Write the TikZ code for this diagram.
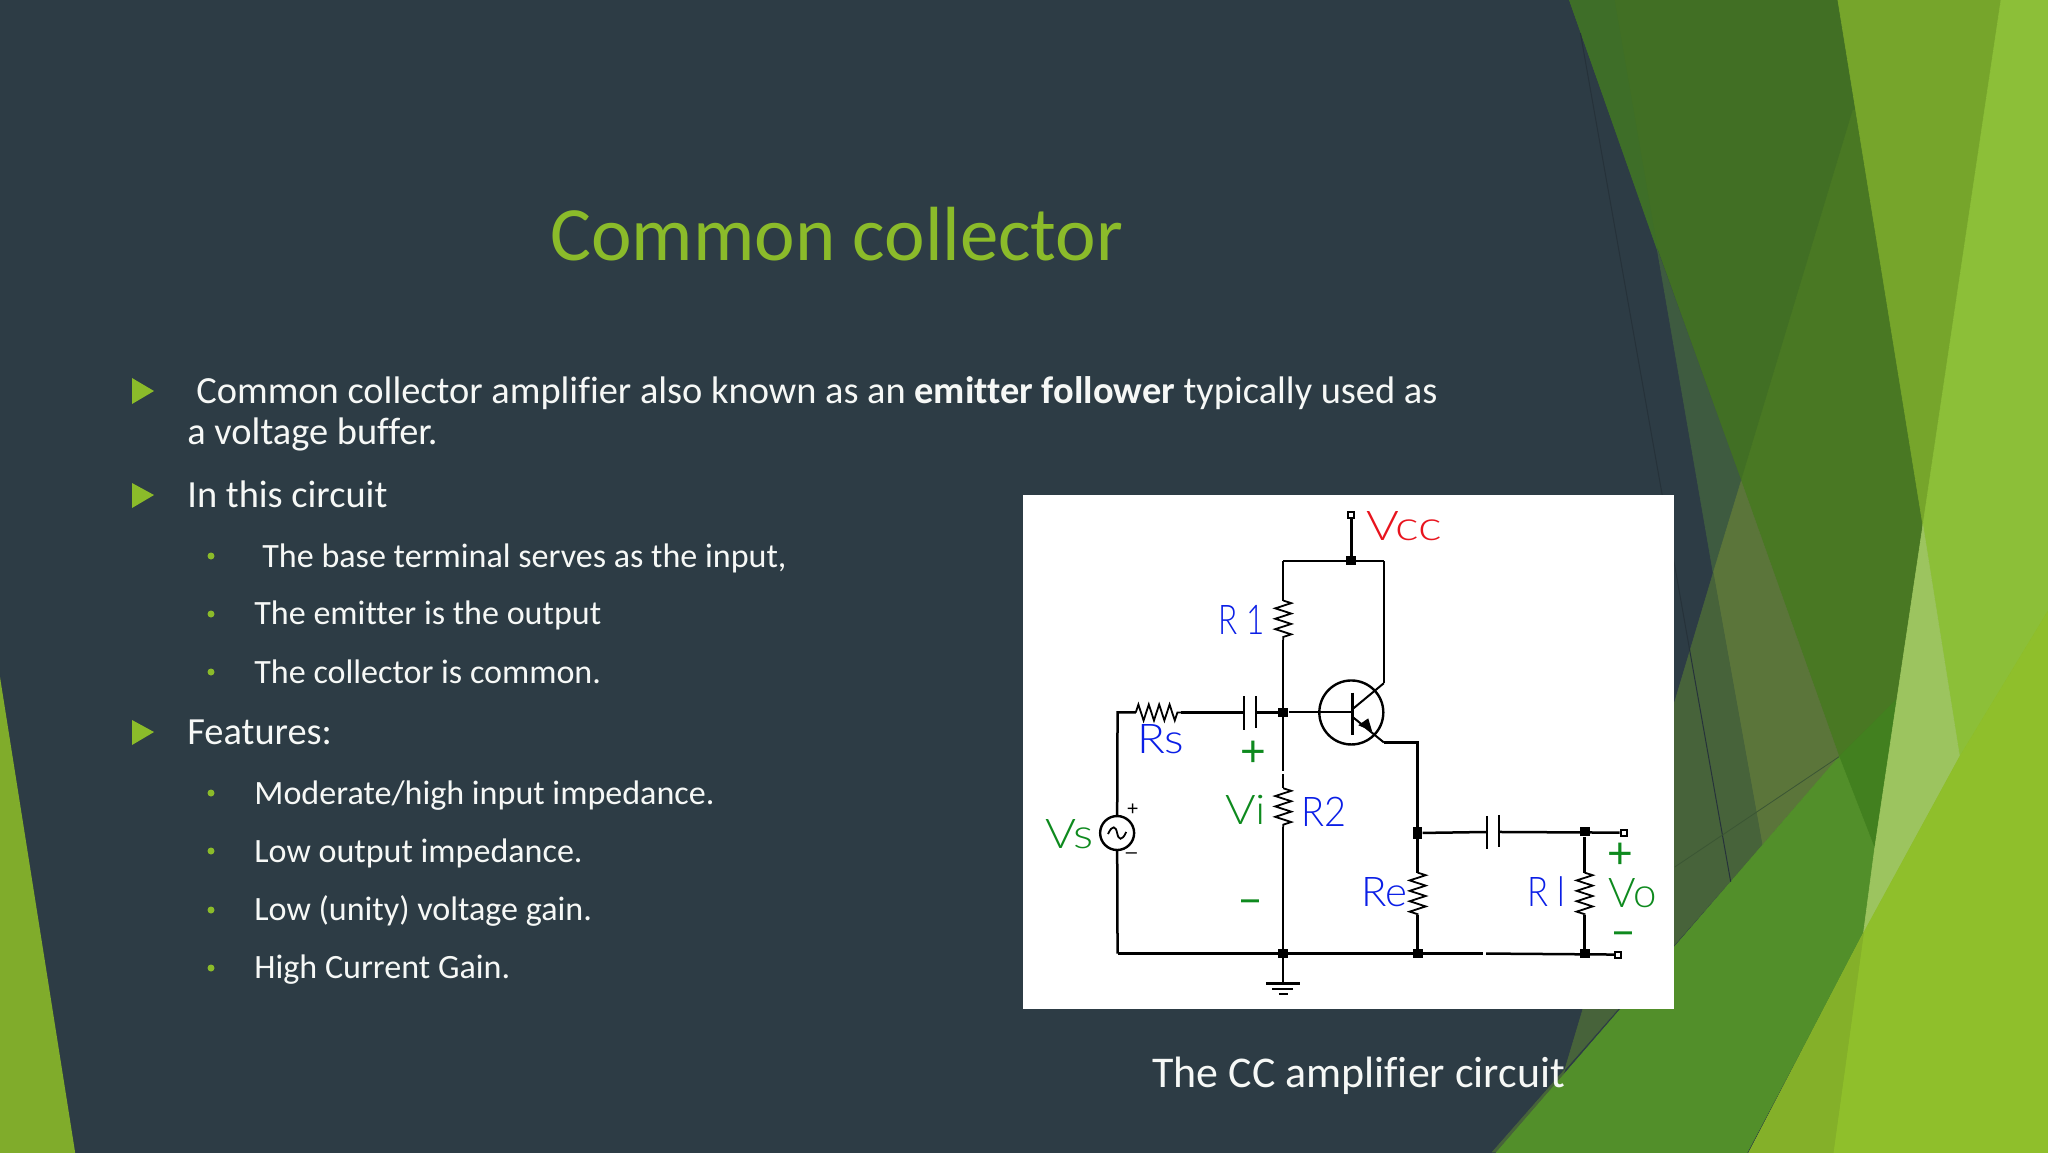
\documentclass[tikz,border=0pt]{standalone}
\usepackage{fontspec}
\usepackage{graphicx}
\setmainfont{Carlito}[Ligatures={NoCommon}]
\newfontfamily\labfont{Lato Light}
\newfontfamily\signfont{Liberation Sans}
\usetikzlibrary{decorations.pathmorphing}
\definecolor{slidebg}{HTML}{2D3C45}
\definecolor{accent}{HTML}{8BBB2A}
\definecolor{bodytxt}{HTML}{F6F8F6}
\definecolor{labblue}{HTML}{0A1EE6}
\definecolor{labgreen}{HTML}{0E8A1E}
\definecolor{labred}{HTML}{E8141E}
\newcommand{\fitw}[2]{\resizebox{#1}{\height}{#2}}
\tikzset{
  hex/.code={\definecolor{tmpc}{HTML}{#1}\tikzset{color=tmpc}},
  facet/.style={hex=#1,line width=.3pt},
  bodytext/.style={anchor=base west,inner sep=0pt,text=bodytxt,font=\fontsize{19.2}{21}\selectfont},
  subtext/.style={anchor=base west,inner sep=0pt,text=bodytxt,font=\fontsize{17.03}{20}\selectfont},
  arrowbullet/.style={fill=accent,draw=none},
  dotbullet/.style={circle,fill=accent,draw=none,minimum size=3.5pt,inner sep=0pt},
  wire/.style={draw=black,line width=1.25pt},
  thinwire/.style={draw=black,line width=1pt},
  resistor/.style={draw=black,line width=.9pt,decorate,decoration={zigzag,amplitude=#1,segment length=5.2pt}},
  resistor/.default=4pt,
  junction/.style={rectangle,fill=black,draw=none,minimum width=5pt,minimum height=4.5pt,inner sep=0pt},
  terminal/.style={rectangle,draw=black,fill=white,line width=1pt,minimum width=3pt,minimum height=3pt,inner sep=0pt},
  lab/.style={anchor=base west,inner sep=0pt,font=\labfont\fontsize{20.5}{22}\selectfont},
  signmark/.style={inner sep=0pt,text=labgreen,font=\signfont\fontsize{22}{22}\selectfont},
}
\begin{document}
\begin{tikzpicture}[x=.5pt,y=-.5pt]
\useasboundingbox (0,0) rectangle (2048,1152);
\fill[slidebg] (-6,-6) rectangle (2054,1158);
\fill[hex=80AC2B] (-6,639) -- (0,677) -- (76,1158) -- (-6,1158) -- cycle;
\begin{scope}[shift={(1500,0)},x=.17475pt,y=-.36735pt]
  \filldraw[facet=416F24] (195,-5) -- (965,-5) -- (1030,150) -- (1010,150) -- (690,655) -- (445,330) -- cycle;
  \filldraw[facet=3E6E28] (195,-5) -- (325,-5) -- (450,340) -- cycle;
  \filldraw[facet=497823] (1010,150) -- (1030,150) -- (1230,715) -- (1150,945) -- (970,1030) -- (690,655) -- cycle;
  \filldraw[facet=3E5B40] (450,340) -- (690,655) -- (610,780) -- cycle;
  \filldraw[facet=5B753A] (610,780) -- (690,655) -- (970,1030) -- (750,1150) -- cycle;
  \filldraw[facet=47633A] (610,780) -- (750,1150) -- (-22,1568) -- (115,1568) -- cycle;
  \filldraw[facet=42801F] (970,1030) -- (1150,945) -- (1072,1155) -- cycle;
  \filldraw[facet=528F2A] (-22,1575) -- (970,1030) -- (1072,1155) -- (1040,1270) -- (700,1575) -- cycle;
  \filldraw[facet=76A52B] (965,-5) -- (1435,-5) -- (1210,715) -- cycle;
  \filldraw[facet=8CBF38] (1435,-5) -- (1590,-5) -- (1590,830) -- (1570,830) -- (1315,1030) -- (1210,715) -- cycle;
  \filldraw[facet=9CC45F] (1210,715) -- (1315,1030) -- (1040,1270) -- (1072,1155) -- cycle;
  \filldraw[facet=8FBF2B] (1590,830) -- (1590,1580) -- (700,1580) -- (1040,1270) -- (1315,1030) -- (1570,830) -- cycle;
  \filldraw[facet=84B029] (700,1580) -- (1040,1270) -- (950,1580) -- cycle;
  \draw[hex=26323A,line width=.5pt] (230,45) -- (660,1200);
  \draw[hex=3B5634,line width=.4pt] (500,1180) -- (970,1030);
\end{scope}
% title and body
\node (title) [anchor=base west,inner sep=0pt,text=accent,font=\fontsize{38.4}{40}\selectfont] at (550,260) {Common collector};
\fill[arrowbullet] (132,378) -- (154,391) -- (132,404) -- cycle;
\fill[arrowbullet] (132,483) -- (154,495) -- (132,508) -- cycle;
\fill[arrowbullet] (132,720) -- (154,732) -- (132,745) -- cycle;
\node (l1) [bodytext] at (196,403) {Common collector amplifier also known as an \textbf{emitter follower} typically used as};
\node (l2) [bodytext] at (187,444) {a voltage buffer.};
\node (l3) [bodytext] at (187,507) {In this circuit};
\node (l4) [subtext] at (262,567) {The base terminal serves as the input,};
\node (l5) [subtext] at (254,624) {The emitter is the output};
\node (l6) [subtext] at (254,683) {The collector is common.};
\node (l7) [bodytext] at (187,744) {Features:};
\node (l8) [subtext] at (254,804) {Moderate/high input impedance.};
\node (l9) [subtext] at (254,862) {Low output impedance.};
\node (l10) [subtext] at (254,920) {Low (unity) voltage gain.};
\node (l11) [subtext] at (254,978) {High Current Gain.};
\foreach \yy/\nm in {556/a,614/b,672/c,793/d,851/e,910/f,968/g}
  \node (dot\nm) [dotbullet] at (211,\yy) {};
\node (caption) [anchor=base west,inner sep=0pt,text=bodytxt,font=\fontsize{21.95}{24}\selectfont] at (1152,1087) {The CC amplifier circuit};
% circuit image
\fill[white] (1023,495) rectangle (1674,1009);
\begin{scope}[shift={(1010,480)},x=.21685pt,y=-.1722pt]
  % named points
  \node (vccT) [terminal] at (787,103) {};
  \node (top) [junction] at (787,235) {};
  \coordinate (topL) at (630,235);
  \coordinate (topR) at (862,235);
  \coordinate (r1a) at (630,350);
  \coordinate (r1b) at (630,465);
  \node (base) [junction] at (630,675) {};
  \coordinate (gapA) at (630,845);
  \coordinate (gapB) at (630,855);
  \coordinate (r2a) at (630,895);
  \coordinate (r2b) at (630,1008);
  \node (gnd) [junction] at (630,1375) {};
  \coordinate (gndE) at (630,1462);
  \coordinate (collTop) at (862,590);
  \coordinate (collIn) at (790,665);
  \coordinate (emIn) at (790,688);
  \coordinate (emOut) at (862,762);
  \coordinate (emCorner) at (940,762);
  \node (ej) [junction,minimum width=4.5pt,minimum height=6pt] at (940,1025) {};
  \coordinate (reA) at (940,1140);
  \coordinate (reB) at (940,1262);
  \node (reG) [junction] at (940,1375) {};
  \coordinate (cL) at (1100,1022);
  \coordinate (cR) at (1128,1022);
  \node (oj) [junction] at (1325,1022) {};
  \node (oT) [terminal] at (1415,1024) {};
  \coordinate (rlA) at (1325,1140);
  \coordinate (rlB) at (1325,1262);
  \node (rlG) [junction] at (1325,1375) {};
  \node (gT) [terminal] at (1402,1378) {};
  \coordinate (botA) at (1090,1375);
  \coordinate (botB) at (1098,1375);
  \coordinate (blC) at (248,1375);
  \coordinate (tlC) at (248,675);
  \coordinate (rsA) at (290,675);
  \coordinate (rsB) at (395,675);
  \coordinate (c1L) at (540,675);
  \coordinate (c1R) at (567,675);
  \node (vs) [circle,draw=black,line width=1.2pt,fill=white,minimum size=17pt,inner sep=0pt] at (247,1025) {};
  \node (tr) [circle,draw=black,line width=1.2pt,minimum size=32pt,inner sep=0pt] at (787,675) {};
  % wires
  \draw[wire] (vccT) -- (top);
  \draw[wire] (topL) -- (topR);
  \draw[wire] (topL) -- (r1a);
  \draw[resistor] (r1a) -- (r1b);
  \draw[wire] (r1b) -- (gapA);
  \draw[wire] (gapB) -- (r2a);
  \draw[resistor] (r2a) -- (r2b);
  \draw[wire] (r2b) -- (gnd);
  \draw[wire] (gnd) -- (gndE);
  \draw[wire] (topR) -- (collTop);
  \draw[thinwire] (collTop) -- (collIn);
  \draw[thinwire] (base) -- (790,675);
  \draw[wire] (790,617) -- (790,740);
  \draw[thinwire] (emIn) -- (emOut);
  \draw[wire] (emOut) -- (emCorner) -- (ej);
  \fill[black] (835,730) -- (803,712) -- (826,692) -- cycle;
  \draw[wire] (ej) -- (reA);
  \draw[resistor] (reA) -- (reB);
  \draw[wire] (reB) -- (reG);
  \draw[wire] (ej) -- (cL);
  \draw[wire] (cR) -- (oT);
  \draw[wire] (oj) -- (rlA);
  \draw[resistor] (rlA) -- (rlB);
  \draw[wire] (rlB) -- (rlG);
  \draw[wire] (blC) -- (botA);
  \draw[wire] (botB) -- (gT);
  \draw[wire] (blC) -- (vs);
  \draw[wire] (vs) -- (tlC) -- (rsA);
  \draw[resistor=4pt] (rsA) -- (rsB);
  \draw[wire] (rsB) -- (c1L);
  \draw[wire] (c1R) -- (base);
  % capacitors
  \draw[wire] (540,628) -- (540,725);
  \draw[wire] (567,628) -- (567,720);
  \draw[wire] (1100,975) -- (1100,1072);
  \draw[wire] (1128,972) -- (1128,1065);
  % ground
  \draw[wire] (590,1462) -- (668,1462);
  \draw[wire] (605,1478) -- (652,1478);
  \draw[wire] (620,1493) -- (640,1493);
  % source tilde
  \draw[line width=.9pt] (226,1028) .. controls (236,1000) and (244,1005) .. (247,1025) .. controls (250,1045) and (258,1050) .. (268,1022);
  % labels
  \node (vccL) [lab,text=labred] at (820,175) {\fitw{38pt}{Vcc}};
  \node (r1L) [lab,text=labblue] at (480,448) {\fitw{23pt}{R 1}};
  \node (rsL) [lab,text=labblue] at (292,793) {\fitw{23.5pt}{Rs}};
  \node (viL) [lab,text=labgreen] at (495,1000) {\fitw{20.5pt}{Vi}};
  \node (r2L) [lab,text=labblue] at (672,1005) {\fitw{22.5pt}{R2}};
  \node (vsL) [lab,text=labgreen] at (80,1070) {\fitw{24pt}{Vs}};
  \node (reL) [lab,text=labblue] at (810,1238) {\fitw{23pt}{Re}};
  \node (rlL) [lab,text=labblue] at (1192,1238) {\fitw{19pt}{R l}};
  \node (voL) [lab,text=labgreen] at (1380,1240) {\fitw{24pt}{Vo}};
  \node (pi) [signmark] at (562,795) {+};
  \node (mi) [signmark] at (555,1238) {\fitw{9pt}{\char"2013}};
  \node (po) [signmark] at (1408,1092) {+};
  \node (mo) [signmark] at (1415,1330) {\fitw{9pt}{\char"2013}};
  \node (ps) [inner sep=0pt,font=\signfont\fontsize{10}{10}\selectfont] at (283,958) {+};
  \node (ms) [inner sep=0pt,font=\signfont\fontsize{10}{10}\selectfont] at (280,1092) {\char"2013};
\end{scope}
\end{tikzpicture}
\end{document}
